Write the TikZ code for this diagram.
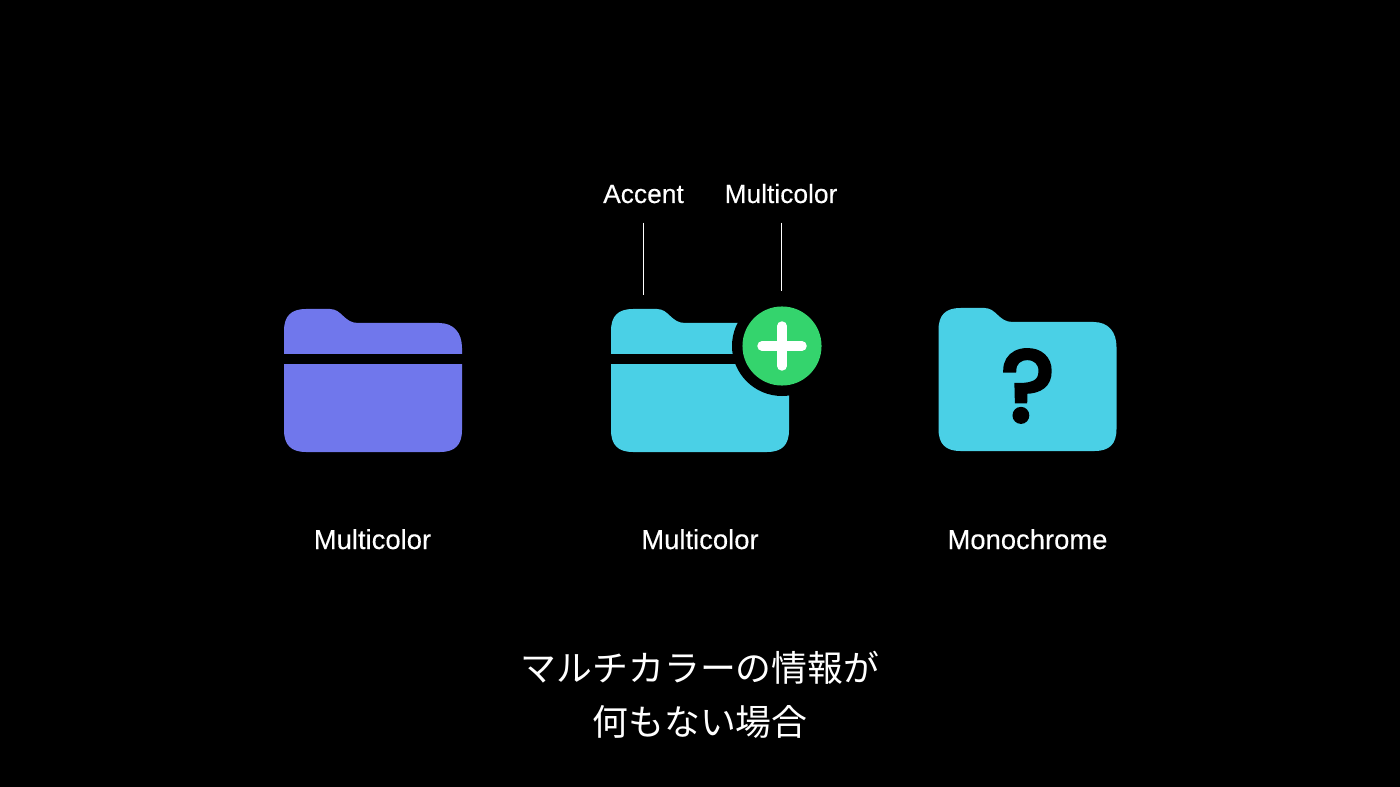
\documentclass[tikz,border=0pt]{standalone}
\usepackage{fontspec}
\setmainfont[FakeBold=0.25]{Liberation Sans}
\newfontfamily\cjk{Noto Sans CJK JP}
\newfontfamily\qmark[FakeBold=4.5]{Poppins}
\definecolor{folderpurple}{HTML}{7077EC}
\definecolor{foldercyan}{HTML}{4AD0E6}
\definecolor{badgegreen}{HTML}{34D46D}
\newcommand{\folderpath}{(0,22) .. controls (0,7) and (7,0) .. (22,0) -- (46,0) .. controls (58,0) and (60,14) .. (74,14) -- (155,14) .. controls (170,14) and (178,24) .. (178,39) -- (178,121) .. controls (178,136) and (171,143) .. (156,143) -- (22,143) .. controls (7,143) and (0,136) .. (0,121) -- cycle}
\tikzset{
    caption/.style={text=white,font=\fontsize{15.6}{18}\selectfont,anchor=base,inner sep=0pt},
    toplabel/.style={caption,font=\fontsize{15}{18}\selectfont},
    jptext/.style={text=white,font=\cjk\fontsize{20.4}{24}\selectfont,anchor=base,inner sep=0pt},
    leader/.style={draw=white,line width=0.5pt,shorten <=10.8pt}
}
\begin{document}
\begin{tikzpicture}[x=0.02cm,y=-0.02cm]
    \fill[black] (0,0) rectangle (1400,787);
    \useasboundingbox (0,0) rectangle (1400,787);
    % left folder
    \begin{scope}[shift={(284,309)}]
        \fill[folderpurple] \folderpath;
        \fill[black] (-1,44.5) rectangle (179,54.5);
    \end{scope}
    % middle folder
    \begin{scope}[shift={(611,309)}]
        \fill[foldercyan] \folderpath;
        \fill[black] (-1,44.5) rectangle (179,54.5);
    \end{scope}
    \fill[black] (782,346) circle (50);
    \node[circle,fill=badgegreen,minimum size=45pt,inner sep=0pt] (badge) at (782,346) {};
    \draw[white,line width=5.4pt,line cap=round] (762,346) -- (802,346);
    \draw[white,line width=5.4pt,line cap=round] (782,326) -- (782,366);
    % right folder
    \begin{scope}[shift={(938.5,308)}]
        \fill[foldercyan] \folderpath;
    \end{scope}
    \node[text=black,font=\qmark\fontsize{57}{60}\selectfont,anchor=base,inner sep=0pt] (question) at (1028,421) {?};
    % labels
    \node[toplabel] (accent) at (643.5,203) {Accent};
    \node[toplabel] (multitop) at (781,203) {Multicolor};
    \coordinate (accenttip) at (643.5,295);
    \coordinate (multitip) at (781,291);
    \draw[leader] (accent.south) -- (accenttip);
    \draw[leader] (multitop.south) -- (multitip);
    \node[caption] (left) at (372.5,549) {Multicolor};
    \node[caption] (middle) at (700,549) {Multicolor};
    \node[caption] (right) at (1027.5,549) {Monochrome};
    \node[jptext] (line1) at (700,681) {マルチカラーの情報が};
    \node[jptext] (line2) at (700,735) {何もない場合};
\end{tikzpicture}
\end{document}
